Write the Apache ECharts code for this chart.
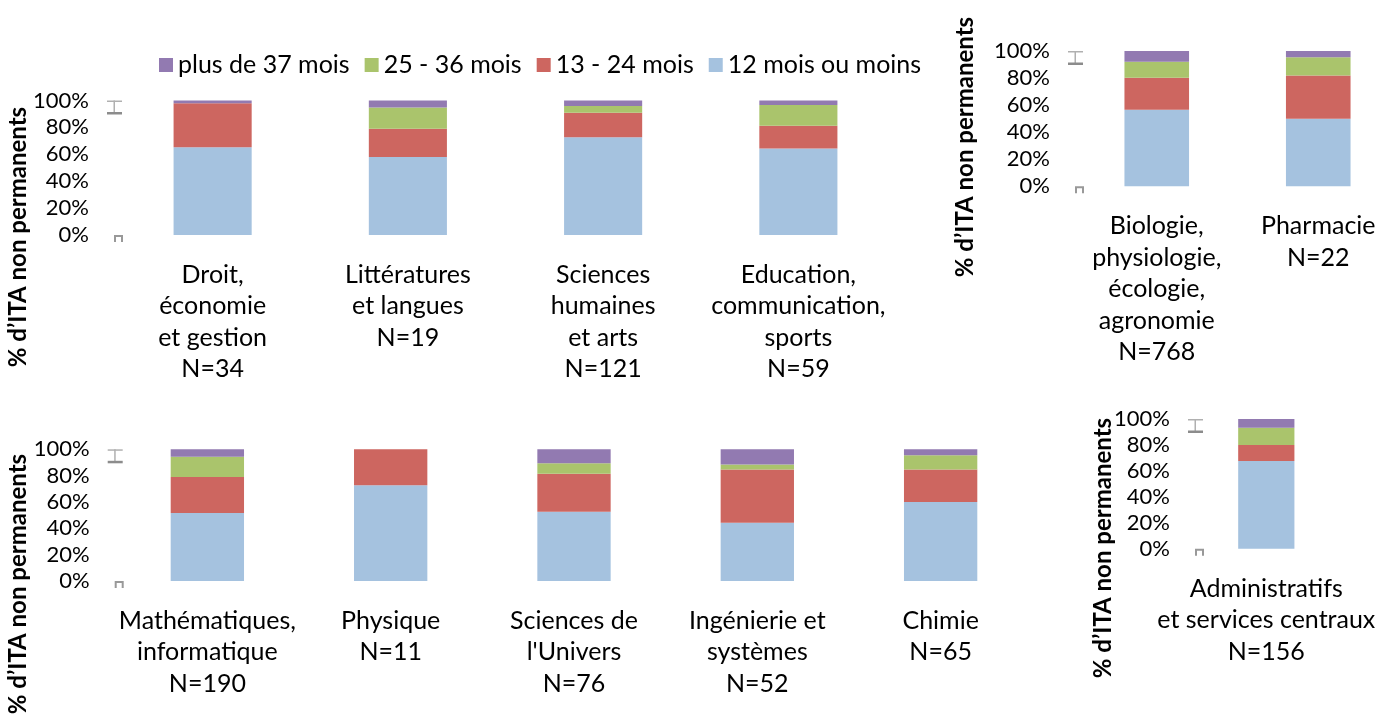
<!DOCTYPE html>
<html>
<head>
<meta charset="utf-8">
<title>ITA non permanents</title>
<script src="https://cdn.jsdelivr.net/npm/echarts@6.0.0/dist/echarts.min.js"></script>
<style>
  html, body { margin: 0; padding: 0; background: #fff; }
  #chart { width: 1399px; height: 726px; }
</style>
</head>
<body>
<div id="chart"></div>
<script>
// categories of each panel
var cats1 = ['Droit,\néconomie\net gestion\nN=34', 'Littératures\net langues\nN=19', 'Sciences\nhumaines\net arts\nN=121', 'Education,\ncommunication,\nsports\nN=59'];
var cats2 = ['Biologie,\nphysiologie,\nécologie,\nagronomie\nN=768', 'Pharmacie\nN=22'];
var cats3 = ['Mathématiques,\ninformatique\nN=190', 'Physique\nN=11', 'Sciences de\nl\'Univers\nN=76', 'Ingénierie et\nsystèmes\nN=52', 'Chimie\nN=65'];
var cats4 = ['Administratifs\net services centraux\nN=156'];

// series names (legend order)
var seriesNames = ['plus de 37 mois', '25 - 36 mois', '13 - 24 mois', '12 mois ou moins'];

// values (%), one sub array per panel
var moins12 = [[65.2, 57.9, 72.7, 64.4], [56.6, 50.0], [51.6, 72.7, 52.6, 44.2, 60.0], [67.6]];
var mois13_24 = [[32.7, 21.1, 18.2, 16.9], [23.7, 31.8], [27.4, 27.3, 28.9, 40.4, 24.6], [12.4]];
var mois25_36 = [[0, 15.8, 5.0, 15.3], [11.8, 13.6], [15.3, 0, 7.9, 3.8, 10.8], [13.2]];
var plus37 = [[2.1, 5.2, 4.1, 3.4], [7.9, 4.6], [5.7, 0, 10.6, 11.6, 4.6], [6.8]];

var yTicks = [0, 20, 40, 60, 80, 100];

(function() {
  var myChart = echarts.init(document.getElementById('chart'));
  var font = 'Lato, "Open Sans", sans-serif';
  var colors = { '12 mois ou moins': '#A5C2DF', '13 - 24 mois': '#CD6660', '25 - 36 mois': '#AAC46C', 'plus de 37 mois': '#927AB1' };

  // grids in pixels
  var grids = [
    { left: 115, top: 100.5, width: 781, height: 134.5 },
    { left: 1076, top: 51, width: 331, height: 135.3 },
    { left: 115.7, top: 449.3, width: 916.6, height: 131.7 },
    { left: 1196, top: 419, width: 140.6, height: 129.7 }
  ];
  var cats = [cats1, cats2, cats3, cats4];
  // position of the vertical titles
  var titlePos = [[18, 237], [965, 147], [18, 584], [1103, 548]];

  var xAxis = [], yAxis = [], series = [], graphic = [];
  grids.forEach(function(g, i) {
    xAxis.push({
      type: 'category',
      gridIndex: i,
      data: cats[i],
      axisLine: { show: false },
      axisTick: { show: false },
      axisLabel: {
        interval: 0,
        margin: 24,
        color: '#000',
        fontFamily: font,
        fontSize: 25,
        lineHeight: 31.5
      }
    });
    yAxis.push({
      type: 'value',
      gridIndex: i,
      min: yTicks[0],
      max: yTicks[yTicks.length - 1],
      interval: yTicks[1] - yTicks[0],
      axisLine: { show: false },
      axisTick: { show: false },
      splitLine: { show: false },
      axisLabel: {
        margin: 26,
        color: '#000',
        fontFamily: font,
        fontSize: 22,
        formatter: '{value}%'
      }
    });
    // stacked bars: bottom to top
    var stackData = [
      ['12 mois ou moins', moins12[i]],
      ['13 - 24 mois', mois13_24[i]],
      ['25 - 36 mois', mois25_36[i]],
      ['plus de 37 mois', plus37[i]]
    ];
    stackData.forEach(function(s) {
      series.push({
        name: s[0],
        type: 'bar',
        stack: 'p' + i,
        xAxisIndex: i,
        yAxisIndex: i,
        barWidth: '40%',
        data: s[1],
        itemStyle: { color: colors[s[0]] },
        emphasis: { disabled: true }
      });
    });

    // vertical axis title
    graphic.push({
      type: 'text',
      x: titlePos[i][0],
      y: titlePos[i][1],
      rotation: Math.PI / 2,
      style: {
        text: '% d’ITA non permanents',
        fontFamily: font,
        fontWeight: 'bold',
        fontSize: 24,
        fill: '#000',
        textAlign: 'center',
        textVerticalAlign: 'middle'
      }
    });
    // small grey marks at top and bottom of the axis
    var l = g.left, t = g.top, b = g.top + g.height;
    graphic.push({ type: 'rect', shape: { x: l - 8, y: t, width: 15, height: 1.5 }, style: { fill: '#b0b0b0' } });
    graphic.push({ type: 'rect', shape: { x: l - 1.5, y: t, width: 1.5, height: 12 }, style: { fill: '#b0b0b0' } });
    graphic.push({ type: 'rect', shape: { x: l - 8, y: t + 11.5, width: 15, height: 2.5 }, style: { fill: '#8c8c8c' } });
    graphic.push({
      type: 'polyline',
      shape: { points: [[l, b + 7], [l, b + 1], [l + 7, b + 1], [l + 7, b + 7]] },
      style: { stroke: '#999', lineWidth: 2, fill: null }
    });
  });

  var option = {
    animation: false,
    legend: {
      data: seriesNames,
      left: 154,
      top: 45,
      icon: 'rect',
      itemWidth: 14,
      itemHeight: 14,
      itemGap: 15,
      textStyle: { color: '#000', fontFamily: font, fontSize: 25, lineHeight: 30 },
      selectedMode: false
    },
    grid: grids,
    xAxis: xAxis,
    yAxis: yAxis,
    series: series,
    graphic: graphic
  };
  myChart.setOption(option);
  window.addEventListener('resize', function() {
    myChart.resize();
  });
})();
</script>
</body>
</html>
